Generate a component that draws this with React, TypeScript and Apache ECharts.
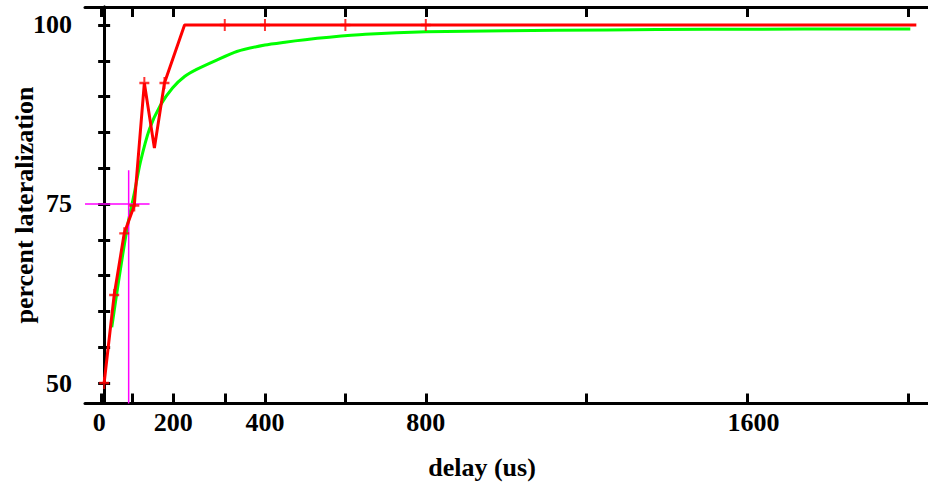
import React, { useEffect, useRef } from "react";
import * as echarts from "echarts";

// ---- data ----
const redDelay = [0, 25, 50, 75, 100, 125, 150, 200, 300, 400, 600, 800, 1200, 1600, 2020];
const redPercent = [50, 62.3, 70.9, 74.8, 91.9, 82.8, 91.9, 100, 100, 100, 100, 100, 100, 100, 100];
const redMarkedDelay = [0, 25, 50, 75, 100, 150, 300, 400, 600, 800];

const greenDelay = [19, 30, 45, 60, 75, 90, 113, 140, 170, 200, 230, 280, 330, 400, 450, 500, 560, 650, 800, 1000, 1250, 1500, 2005];
const greenPercent = [57.8, 62, 67.5, 72.5, 76.5, 80.8, 85.5, 88.8, 91.2, 92.8, 93.8, 95.1, 96.3, 97.2, 97.6, 97.95, 98.3, 98.7, 99.05, 99.2, 99.3, 99.4, 99.45];

const thresholdPercent = 75;
const thresholdDelay = 61;
const thresholdHLineEnd = 113;
const thresholdVLineTop = 79.7;

const xMin = -47.6;
const xMax = 2049;
const yMin = 47.14;
const yMax = 102.51;

const xBottomTickValues = [-8, 71, 172, 300, 400, 600, 800, 1200, 1600, 2000];
const xTopTickValues = [-8, 71, 172, 400, 600, 800, 1200, 1600, 2000];
const xLabelValues = [-12, 172, 400, 800, 1615];
const xLabelTexts = ["0", "200", "400", "800", "1600"];
const yTickValues = [50, 55, 60, 65, 70, 75, 80, 85, 90, 95, 100];
const yLabelValues = [50, 75, 100];
const yLabelTexts = ["50", "75", "100"];

const xTitle = "delay (us)";
const yTitle = "percent lateralization";

const FONT = "'Liberation Serif', 'Times New Roman', serif";

export default function App() {
  const ref = useRef<HTMLDivElement>(null);
  useEffect(() => {
    if (!ref.current) return;
    const chart = echarts.init(ref.current, undefined, { renderer: "svg" });
    const plus = "path://M4,0 L6,0 L6,4 L10,4 L10,6 L6,6 L6,10 L4,10 L4,6 L0,6 L0,4 L4,4 Z";
    const axisLine = { show: true, lineStyle: { color: "#000", width: 3 } };
    const labelFont = { fontFamily: FONT, fontWeight: "bold" as const, fontSize: 26, color: "#000" };
    chart.setOption({
      animation: false,
      backgroundColor: "#fff",
      grid: { left: 85, top: 7, right: -5, bottom: 80.5 },
      xAxis: [
        {
          type: "value", position: "bottom", min: xMin, max: xMax,
          axisLine, splitLine: { show: false },
          axisTick: { show: true, inside: true, length: 10, lineStyle: { color: "#000", width: 3 }, customValues: xBottomTickValues },
          axisLabel: {
            show: true, margin: 6, ...labelFont, customValues: xLabelValues,
            formatter: (v: number) => xLabelTexts[xLabelValues.indexOf(v)] ?? "",
          },
        },
        {
          type: "value", position: "top", min: xMin, max: xMax,
          axisLine, splitLine: { show: false },
          axisTick: { show: true, inside: true, length: 10, lineStyle: { color: "#000", width: 3 }, customValues: xTopTickValues },
          axisLabel: { show: false },
        },
      ],
      yAxis: [
        {
          type: "value", position: "left", min: yMin, max: yMax,
          axisLine, splitLine: { show: false },
          axisTick: { show: true, inside: true, length: 6, lineStyle: { color: "#000", width: 3 }, customValues: yTickValues },
          axisLabel: {
            show: true, margin: 13, ...labelFont, customValues: yLabelValues,
            formatter: (v: number) => yLabelTexts[yLabelValues.indexOf(v)] ?? "",
          },
        },
        {
          type: "value", position: "right", min: yMin, max: yMax,
          axisLine, splitLine: { show: false },
          axisTick: { show: true, inside: true, length: 6, lineStyle: { color: "#000", width: 3 }, customValues: yTickValues },
          axisLabel: { show: false },
        },
      ],
      series: [
        {
          type: "line", name: "fit", data: greenDelay.map((x, i) => [x, greenPercent[i]]),
          showSymbol: false, symbol: "none", smooth: 0.2,
          lineStyle: { color: "#00ff00", width: 3 }, z: 2, silent: true,
        },
        {
          type: "line", name: "threshold-h",
          data: [[xMin, thresholdPercent], [thresholdHLineEnd, thresholdPercent]],
          symbol: "none", lineStyle: { color: "#ff00ff", width: 1.5 }, z: 3, silent: true,
        },
        {
          type: "line", name: "threshold-v",
          data: [[thresholdDelay, yMin], [thresholdDelay, thresholdVLineTop]],
          symbol: "none", lineStyle: { color: "#ff00ff", width: 1.5 }, z: 3, silent: true,
        },
        {
          type: "line", name: "data", data: redDelay.map((x, i) => [x, redPercent[i]]),
          symbol: "none", lineStyle: { color: "#ff0000", width: 3 }, z: 4, silent: true,
        },
        {
          type: "scatter", name: "points",
          data: redMarkedDelay.map((x) => [x, redPercent[redDelay.indexOf(x)]]),
          symbol: plus, symbolSize: [10, 12], itemStyle: { color: "#ff0000" }, z: 5, silent: true,
        },
      ],
      graphic: [
        {
          type: "text", x: 482, y: 467,
          style: { text: xTitle, font: `bold 26px ${FONT}`, fill: "#000", textAlign: "center", textVerticalAlign: "middle" },
        },
        {
          type: "text", x: 24, y: 205, rotation: Math.PI / 2,
          style: { text: yTitle, font: `bold 26px ${FONT}`, fill: "#000", textAlign: "center", textVerticalAlign: "middle" },
        },
      ],
    });
    return () => chart.dispose();
  }, []);
  return <div ref={ref} style={{ position: "absolute", left: 0, top: 0, width: 928, height: 484 }} />;
}
